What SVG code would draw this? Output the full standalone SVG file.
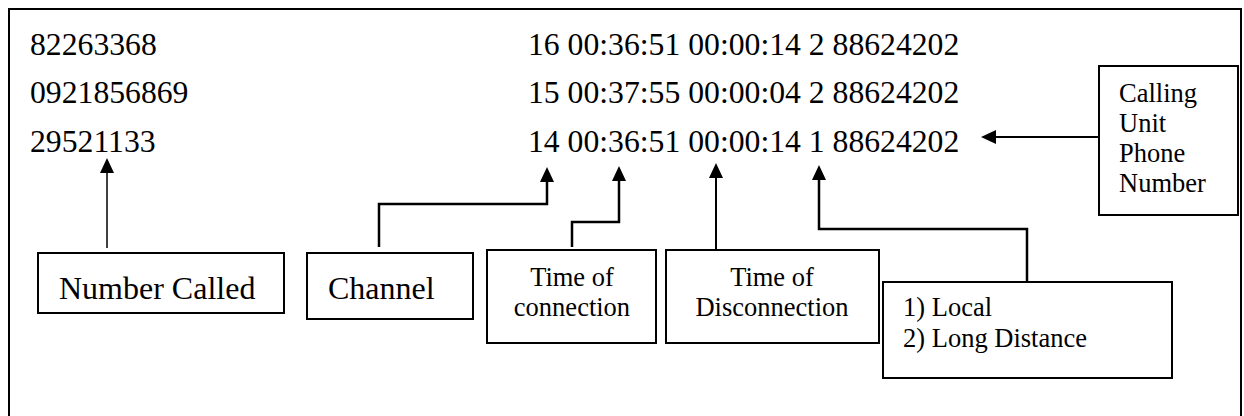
<svg xmlns="http://www.w3.org/2000/svg" width="1244" height="416" viewBox="0 0 1244 416">
<style>
text{font-family:"Liberation Serif","Times New Roman",serif;fill:#000}
.d{font-size:31.7px}
.b{font-size:32px}
.s{font-size:26.5px}
.box{fill:#fff;stroke:#000;stroke-width:2}
.c{fill:none;stroke:#000;marker-end:url(#ah)}
</style>
<defs>
<marker id="ah" markerUnits="userSpaceOnUse" markerWidth="16" markerHeight="16" refX="0" refY="7" orient="auto" viewBox="0 0 16 14">
<path d="M0,0 L15,7 L0,14 z" fill="#000"/>
</marker>
</defs>
<rect x="9" y="9" width="1232" height="420" fill="#fff" stroke="#000" stroke-width="2"/>
<g id="data">
<text class="d" x="30" y="55">82263368</text>
<text class="d" x="30" y="103">0921856869</text>
<text class="d" x="30" y="152">29521133</text>
<text class="d" x="528" y="55">16 00:36:51 00:00:14 2 88624202</text>
<text class="d" x="528" y="103">15 00:37:55 00:00:04 2 88624202</text>
<text class="d" x="528" y="152">14 00:36:51 00:00:14 1 88624202</text>
</g>
<g id="connectors">
<polyline class="c" stroke-width="1.5" points="107,248 107,173"/>
<polyline class="c" stroke-width="2.5" points="379,247 379,204 547,204 547,182"/>
<polyline class="c" stroke-width="2.5" points="572,247 572,222 619,222 619,181"/>
<polyline class="c" stroke-width="2" points="716,250 716,178"/>
<polyline class="c" stroke-width="2.5" points="1027,282 1027,229 819,229 819,180"/>
<polyline class="c" stroke-width="2" points="1099,137 996,137"/>
</g>
<g id="number-called">
<rect class="box" x="38" y="253" width="246" height="60"/>
<text class="b" x="59" y="299">Number Called</text>
</g>
<g id="channel">
<rect class="box" x="307" y="253" width="166" height="66"/>
<text class="b" x="328" y="299">Channel</text>
</g>
<g id="time-of-connection">
<rect class="box" x="487" y="250" width="169" height="93"/>
<text class="s" x="572" y="286" text-anchor="middle">Time of</text>
<text class="s" x="572" y="316" text-anchor="middle">connection</text>
</g>
<g id="time-of-disconnection">
<rect class="box" x="666" y="250" width="213" height="93"/>
<text class="s" x="772" y="286" text-anchor="middle">Time of</text>
<text class="s" x="772" y="316" text-anchor="middle">Disconnection</text>
</g>
<g id="call-type">
<rect class="box" x="883" y="282" width="289" height="96"/>
<text class="s" x="903" y="316">1) Local</text>
<text class="s" x="903" y="347">2) Long Distance</text>
</g>
<g id="calling-unit">
<rect class="box" x="1099" y="66" width="139" height="149"/>
<text class="s" x="1119" y="102">Calling</text>
<text class="s" x="1119" y="132">Unit</text>
<text class="s" x="1119" y="162">Phone</text>
<text class="s" x="1119" y="192">Number</text>
</g>
</svg>
